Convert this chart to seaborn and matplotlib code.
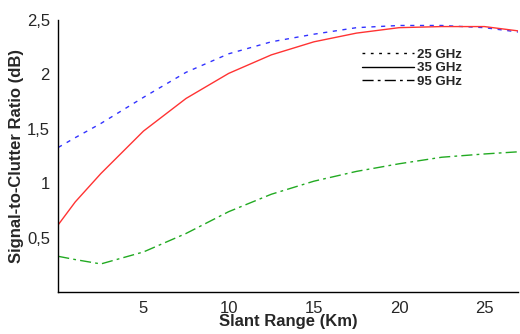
import pandas as pd
import seaborn as sns
import matplotlib.pyplot as plt
from matplotlib.lines import Line2D
from matplotlib.ticker import FuncFormatter

# Slant range (Km)
slant_range = [0, 1, 2.5, 5, 7.5, 10, 12.5, 15, 17.5, 20, 22.5, 25, 27]

# Signal-to-clutter ratio (dB)
scr_25ghz = [1.33, 1.42, 1.55, 1.79, 2.02, 2.19, 2.30, 2.37, 2.43, 2.45, 2.45, 2.43, 2.39]
scr_35ghz = [0.62, 0.83, 1.09, 1.48, 1.78, 2.01, 2.18, 2.30, 2.38, 2.43, 2.44, 2.44, 2.40]
scr_95ghz = [0.33, 0.30, 0.26, 0.37, 0.54, 0.74, 0.90, 1.02, 1.11, 1.18, 1.24, 1.27, 1.29]

labels = ['25 GHz', '35 GHz', '95 GHz']

sns.set_style('white')
plt.rcParams['font.family'] = ['Liberation Sans', 'DejaVu Sans']

df = pd.DataFrame({
    'range': slant_range * 3,
    'scr': scr_25ghz + scr_35ghz + scr_95ghz,
    'freq': [labels[0]] * len(slant_range) + [labels[1]] * len(slant_range) + [labels[2]] * len(slant_range),
})

fig, ax = plt.subplots(figsize=(5.2, 3.34), dpi=100)

colors = {'25 GHz': '#3333ff', '35 GHz': '#ff3333', '95 GHz': '#22aa22'}
dashes = {'25 GHz': (3, 4), '35 GHz': '', '95 GHz': (8, 3, 2, 3)}

sns.lineplot(data=df, x='range', y='scr', hue='freq', style='freq',
             palette=colors, dashes=dashes, linewidth=1.0, ax=ax, legend=False)

ax.set_xlim(0, 27)
ax.set_ylim(0, 2.5)
ax.set_xticks([5, 10, 15, 20, 25])
ax.set_yticks([0.5, 1, 1.5, 2, 2.5])
ax.yaxis.set_major_formatter(FuncFormatter(lambda v, p: ('%g' % v).replace('.', ',')))

for side in ['top', 'right']:
    ax.spines[side].set_visible(False)
for side in ['left', 'bottom']:
    ax.spines[side].set_color('black')
    ax.spines[side].set_linewidth(1.0)

ax.tick_params(direction='inout', length=10, width=1, color='#555555', labelsize=12, pad=1)

ax.set_xlabel('Slant Range (Km)', fontweight='bold', fontsize=12, labelpad=-1)
ax.set_ylabel('Signal-to-Clutter Ratio (dB)', fontweight='bold', fontsize=12, labelpad=2)

handles = [
    Line2D([], [], color='black', linewidth=1, dashes=(2, 4)),
    Line2D([], [], color='black', linewidth=1),
    Line2D([], [], color='black', linewidth=1, dashes=(8, 3, 2, 3)),
]
ax.legend(handles, labels, frameon=False, loc='upper left', bbox_to_anchor=(0.645, 0.92),
          prop={'weight': 'bold', 'size': 9.5}, handlelength=4, handletextpad=0.2,
          labelspacing=0.1, borderpad=0)

fig.subplots_adjust(left=0.112, right=0.997, top=0.94, bottom=0.125)
fig.savefig('out.png', dpi=100)
